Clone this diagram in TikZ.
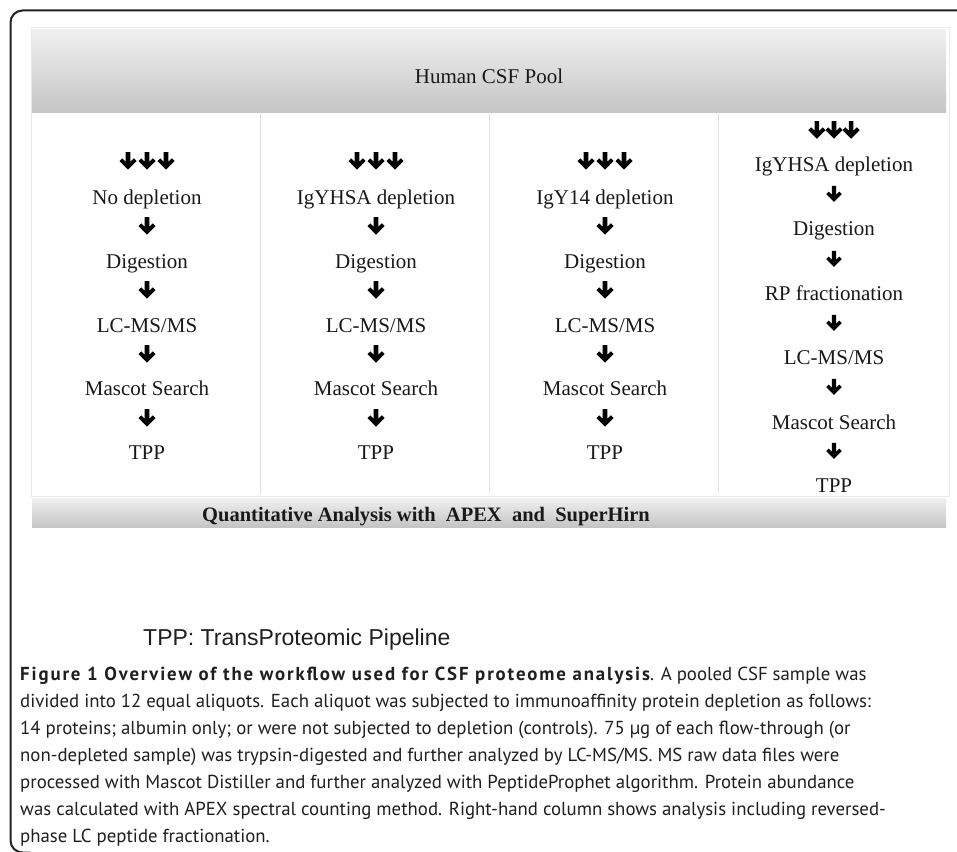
\documentclass[tikz,border=0pt]{standalone}
\usepackage{fontspec}
\setmainfont{Liberation Serif}
\newfontfamily\arialf{Liberation Sans}
\newfontfamily\capf{PT Sans}
\newfontfamily\capbf[LetterSpace=10]{PT Sans Bold}

\definecolor{framec}{RGB}{35,35,35}
\definecolor{hdtop}{RGB}{240,240,241}
\definecolor{hdbot}{RGB}{198,197,198}
\definecolor{faintc}{RGB}{234,234,234}
\definecolor{dividerc}{RGB}{224,224,224}
\definecolor{txt}{RGB}{25,25,25}

\tikzset{
  steptext/.style={font=\fontsize{21}{25}\selectfont, anchor=base, inner sep=0pt, text=txt},
  captext/.style={font=\capf\fontsize{18.8}{22}\selectfont, anchor=base west, inner sep=0pt, text=black!88},
  darr/.pic={\fill[black] (-2.3,-9) -- (2.3,-9) -- (2.3,0.8) -- (5.8,-2.7) -- (8.6,0.1) -- (0,8.7) -- (-8.6,0.1) -- (-5.8,-2.7) -- (-2.3,0.8) -- cycle;},
  tarr/.pic={\pic at (-19,0) {darr}; \pic at (0,0) {darr}; \pic at (19,0) {darr};}
}

\begin{document}
\begin{tikzpicture}[x=1pt,y=-1pt]
\useasboundingbox (0,0) rectangle (957,851);
\fill[white] (0,0) rectangle (957,851);

% outer frame
\draw[framec, line width=2pt, rounded corners=12pt] (960,10.5) -- (10.5,10.5) -- (10.5,852.5) -- (30,852.5);

% faint outline of the diagram
\draw[faintc, line width=0.8pt] (31,27) rectangle (949,496);

% header bar
\shade[top color=hdtop, bottom color=hdbot] (32,30) rectangle (946,112);
\node[steptext] (pool) at (489,83) {Human CSF Pool};

% column dividers
\draw[dividerc, line width=0.9pt] (260,112) -- (260,494);
\draw[dividerc, line width=0.9pt] (489,112) -- (489,494);
\draw[dividerc, line width=0.9pt] (718,112) -- (718,494);

% columns 1-3
\foreach \cx/\lab/\n in {147/No depletion/a, 376/IgYHSA depletion/b, 605/IgY14 depletion/c}{
  \pic at (\cx,161) {tarr};
  \node[steptext] (\n1) at (\cx,204) {\lab};
  \pic at (\cx,226) {darr};
  \node[steptext] (\n2) at (\cx,268) {Digestion};
  \pic at (\cx,290) {darr};
  \node[steptext] (\n3) at (\cx,332) {LC-MS/MS};
  \pic at (\cx,354) {darr};
  \node[steptext] (\n4) at (\cx,395) {Mascot Search};
  \pic at (\cx,418) {darr};
  \node[steptext] (\n5) at (\cx,459) {TPP};
}

% column 4
\pic[scale=0.9] at (834,130) {tarr};
\node[steptext] (d1) at (834,171) {IgYHSA depletion};
\pic[scale=0.9] at (834,194) {darr};
\node[steptext] (d2) at (834,235) {Digestion};
\pic[scale=0.9] at (834,259) {darr};
\node[steptext] (d3) at (834,300) {RP fractionation};
\pic[scale=0.9] at (834,323) {darr};
\node[steptext] (d4) at (834,364) {LC-MS/MS};
\pic[scale=0.9] at (834,387) {darr};
\node[steptext] (d5) at (834,429) {Mascot Search};
\pic[scale=0.9] at (834,451) {darr};
\node[steptext] (d6) at (834,492) {TPP};

% bottom bar
\shade[top color=hdtop, bottom color=hdbot] (32,498) rectangle (946,527);
\node[anchor=base west, inner sep=0pt, text=txt, font=\bfseries\fontsize{20.5}{24}\selectfont] (quant) at (202,521)
  {Quantitative Analysis with\hspace{0.5em}APEX\hspace{0.5em}and\hspace{0.5em}SuperHirn};

% legend
\node[anchor=base west, inner sep=0pt, text=black!88, font=\arialf\fontsize{23}{27}\selectfont] (tpp) at (143,645) {TPP: TransProteomic Pipeline};

% caption
\node[captext] (cap1) at (20,680.5) {{\capbf Figure 1 Overview of the workflow used for CSF proteome analysis}. A pooled CSF sample was};
\node[captext] (cap2) at (20,707.5) {divided into 12 equal aliquots. Each aliquot was subjected to immunoaffinity protein depletion as follows:};
\node[captext] (cap3) at (20,734.5) {14 proteins; albumin only; or were not subjected to depletion (controls). 75 µg of each flow-through (or};
\node[captext] (cap4) at (20,761.5) {non-depleted sample) was trypsin-digested and further analyzed by LC-MS/MS. MS raw data files were};
\node[captext] (cap5) at (20,788.5) {processed with Mascot Distiller and further analyzed with PeptideProphet algorithm. Protein abundance};
\node[captext] (cap6) at (20,815.5) {was calculated with APEX spectral counting method. Right-hand column shows analysis including reversed-};
\node[captext] (cap7) at (20,842.5) {phase LC peptide fractionation.};
\end{tikzpicture}
\end{document}
